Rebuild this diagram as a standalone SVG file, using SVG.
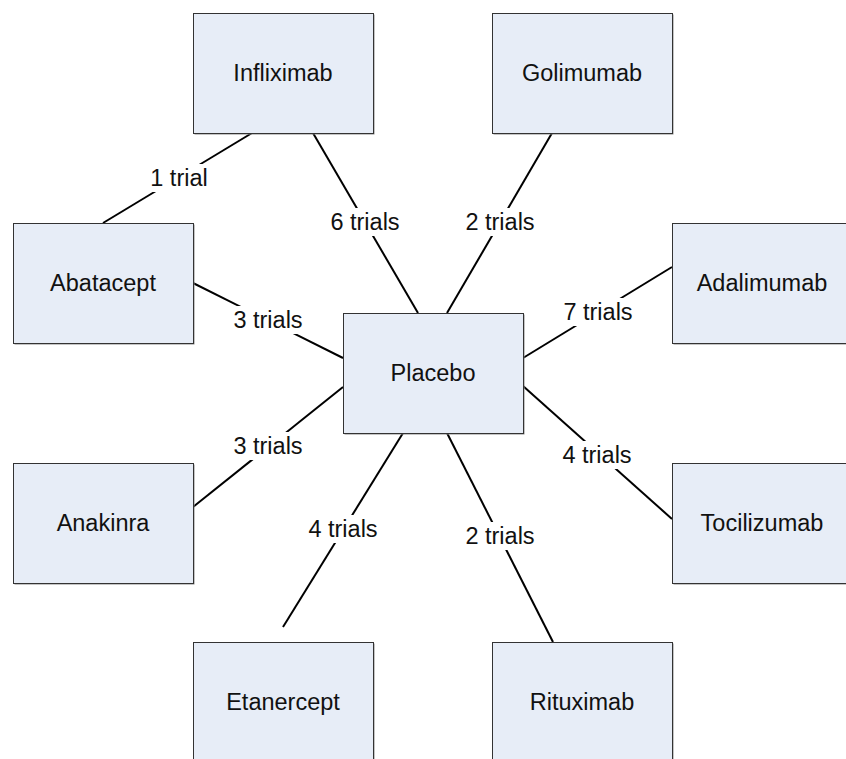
<svg xmlns="http://www.w3.org/2000/svg" width="846" height="759" viewBox="0 0 846 759">
<style>
.box{fill:#E7EDF7;stroke:#333;stroke-width:1}
.sh{fill:#8a8a8a}
.t{font-family:"Liberation Sans",Arial,sans-serif;font-size:23.5px;fill:#111;text-anchor:middle}
.c{stroke:#000;stroke-width:2;fill:none}
.bg{fill:#fff}
</style>
<rect width="846" height="759" fill="#fff"/>
<g id="connectors">
<line class="c" x1="103" y1="223" x2="252" y2="133"/>
<line class="c" x1="313" y1="133" x2="418" y2="313"/>
<line class="c" x1="552" y1="133" x2="447" y2="313"/>
<line class="c" x1="193" y1="283" x2="343" y2="358"/>
<line class="c" x1="672" y1="267" x2="523" y2="358"/>
<line class="c" x1="193" y1="507" x2="343" y2="387"/>
<line class="c" x1="523" y1="386" x2="672" y2="519"/>
<line class="c" x1="403" y1="433" x2="283" y2="627"/>
<line class="c" x1="447" y1="433" x2="553" y2="642"/>
</g>
<g id="labels">
<rect class="bg" x="149" y="164" width="61" height="28"/>
<text class="t" x="179" y="186">1 trial</text>
<rect class="bg" x="328" y="208" width="74" height="28"/>
<text class="t" x="365" y="230">6 trials</text>
<rect class="bg" x="463" y="208" width="74" height="28"/>
<text class="t" x="500" y="230">2 trials</text>
<rect class="bg" x="231" y="306" width="74" height="28"/>
<text class="t" x="268" y="328">3 trials</text>
<rect class="bg" x="561" y="298" width="74" height="28"/>
<text class="t" x="598" y="320">7 trials</text>
<rect class="bg" x="231" y="432" width="74" height="28"/>
<text class="t" x="268" y="454">3 trials</text>
<rect class="bg" x="560" y="441" width="74" height="28"/>
<text class="t" x="597" y="463">4 trials</text>
<rect class="bg" x="306" y="515" width="74" height="28"/>
<text class="t" x="343" y="537">4 trials</text>
<rect class="bg" x="463" y="522" width="74" height="28"/>
<text class="t" x="500" y="544">2 trials</text>
</g>
<g id="node-infliximab">
<rect class="sh" x="194.5" y="14.5" width="180" height="120"/>
<rect class="box" x="193.5" y="13.5" width="180" height="120"/>
<text class="t" x="283" y="81">Infliximab</text>
</g>
<g id="node-golimumab">
<rect class="sh" x="493.5" y="14.5" width="180" height="120"/>
<rect class="box" x="492.5" y="13.5" width="180" height="120"/>
<text class="t" x="582" y="81">Golimumab</text>
</g>
<g id="node-abatacept">
<rect class="sh" x="14.5" y="224.5" width="180" height="120"/>
<rect class="box" x="13.5" y="223.5" width="180" height="120"/>
<text class="t" x="103" y="291">Abatacept</text>
</g>
<g id="node-adalimumab">
<rect class="sh" x="673.5" y="224.5" width="180" height="120"/>
<rect class="box" x="672.5" y="223.5" width="180" height="120"/>
<text class="t" x="762" y="291">Adalimumab</text>
</g>
<g id="node-placebo">
<rect class="sh" x="344.5" y="314.5" width="180" height="120"/>
<rect class="box" x="343.5" y="313.5" width="180" height="120"/>
<text class="t" x="433" y="381">Placebo</text>
</g>
<g id="node-anakinra">
<rect class="sh" x="14.5" y="464.5" width="180" height="120"/>
<rect class="box" x="13.5" y="463.5" width="180" height="120"/>
<text class="t" x="103" y="531">Anakinra</text>
</g>
<g id="node-tocilizumab">
<rect class="sh" x="673.5" y="464.5" width="180" height="120"/>
<rect class="box" x="672.5" y="463.5" width="180" height="120"/>
<text class="t" x="762" y="531">Tocilizumab</text>
</g>
<g id="node-etanercept">
<rect class="sh" x="194.5" y="643.5" width="180" height="120"/>
<rect class="box" x="193.5" y="642.5" width="180" height="120"/>
<text class="t" x="283" y="710">Etanercept</text>
</g>
<g id="node-rituximab">
<rect class="sh" x="493.5" y="643.5" width="180" height="120"/>
<rect class="box" x="492.5" y="642.5" width="180" height="120"/>
<text class="t" x="582" y="710">Rituximab</text>
</g>
</svg>
